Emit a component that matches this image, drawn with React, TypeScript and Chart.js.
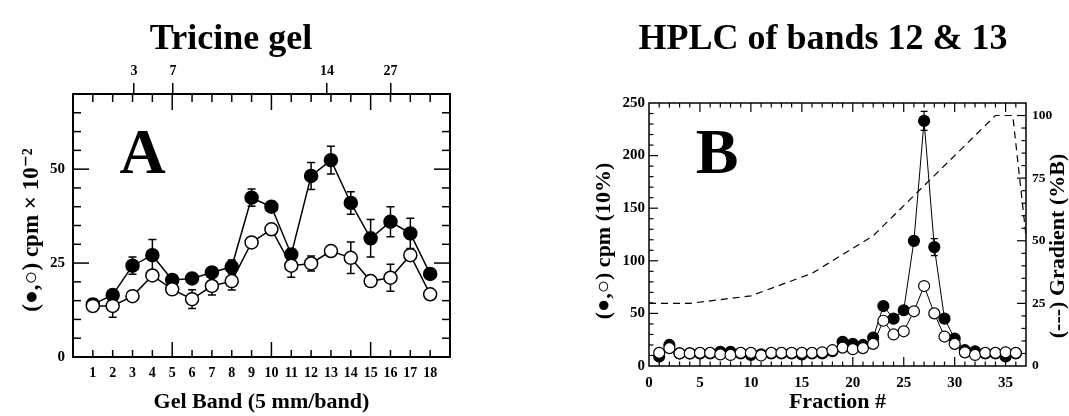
import React, { useEffect, useRef } from "react";
import { Chart, registerables } from "chart.js";

Chart.register(...registerables);

const SERIF = "'Liberation Serif', 'Times New Roman', 'DejaVu Serif', serif";

// ---------- Panel A : Tricine gel ----------
const bandsA = [1, 2, 3, 4, 5, 6, 7, 8, 9, 10, 11, 12, 13, 14, 15, 16, 17, 18];
const filledA = [14, 16.5, 24.3, 27.1, 20.5, 20.9, 22.5, 24.0, 42.4, 40.0, 27.3, 48.2, 52.4, 41.0, 31.6, 36.0, 32.9, 22.1];
const filledErrA = [1.5, 1, 2.3, 4.2, 1, 1, 1, 1.8, 2.3, 1, 1.5, 3.6, 3.7, 3.0, 5.0, 4.0, 4.0, 1];
const openA = [13.6, 13.6, 16.2, 21.7, 18.0, 15.4, 18.9, 20.2, 30.5, 34.0, 24.3, 24.9, 28.2, 26.4, 20.2, 21.1, 27.1, 16.7];
const openErrA = [1.5, 3.0, 1, 1, 1, 2.5, 2.4, 2.4, 1, 1, 3.1, 2.0, 1, 4.2, 1.3, 3.6, 1, 1];
const yTicksA = [0, 25, 50];
const mwLabels = ["3", "7", "14", "27"];
const mwPositions = [3.07, 5.04, 12.8, 16.0];

// ---------- Panel B : HPLC of bands 12 & 13 ----------
const fractionsB = [1, 2, 3, 4, 5, 6, 7, 8, 9, 10, 11, 12, 13, 14, 15, 16, 17, 18, 19, 20, 21, 22, 23, 24, 25, 26, 27, 28, 29, 30, 31, 32, 33, 34, 35, 36];
const filledB = [9, 20, 12, 12, 12, 12, 13.5, 13.5, 12, 10.5, 11, 12, 12, 12, 11, 12, 12, 14, 23, 21, 20, 27, 57, 45, 53, 119, 233, 113, 45, 26, 15, 14, 12, 12, 9, 12];
const filledErrB = [0, 0, 0, 0, 0, 0, 0, 0, 0, 0, 0, 0, 0, 0, 0, 0, 0, 0, 0, 0, 0, 0, 0, 0, 0, 0, 9, 8, 0, 0, 0, 0, 0, 0, 0, 0];
const openB = [12.5, 17, 12, 12, 12.5, 12.5, 11, 10.5, 12.5, 12.5, 10, 12.5, 12.5, 12.5, 12.5, 12.5, 13, 15, 17.5, 16, 17, 21, 43, 30, 33, 52, 76, 50, 28, 21, 13, 10.5, 12.5, 12.5, 13, 12.5];
const gradientX = [0, 4, 10, 16, 22, 34, 35.7, 37];
const gradientY = [25, 25, 28, 37, 52, 100, 100, 52];
const xTicksB = [0, 5, 10, 15, 20, 25, 30, 35];
const yTicksB = [0, 50, 100, 150, 200, 250];
const y2TicksB = [0, 25, 50, 75, 100];

// ---------- helpers ----------
const range = (a: number, b: number, s: number) => {
  const out: number[] = [];
  for (let v = a; v <= b + 1e-9; v += s) out.push(v);
  return out;
};

type TickSpec = { scale: string; side: "bottom" | "top" | "left" | "right"; values: number[]; major: number[]; minorLen: number; majorLen: number };

const framePlugin = (specs: TickSpec[], tickWidth: number, frameWidth: number) => ({
  id: "frameTicks",
  beforeDatasetsDraw(chart: any) {
    const { ctx, chartArea: ca } = chart;
    ctx.save();
    ctx.strokeStyle = "#000";
    ctx.lineWidth = tickWidth;
    for (const s of specs) {
      const scale = chart.scales[s.scale];
      for (const v of s.values) {
        const len = s.major.includes(v) ? s.majorLen : s.minorLen;
        const p = scale.getPixelForValue(v);
        ctx.beginPath();
        if (s.side === "bottom") { ctx.moveTo(p, ca.bottom); ctx.lineTo(p, ca.bottom - len); }
        if (s.side === "top") { ctx.moveTo(p, ca.top); ctx.lineTo(p, ca.top + len); }
        if (s.side === "left") { ctx.moveTo(ca.left, p); ctx.lineTo(ca.left + len, p); }
        if (s.side === "right") { ctx.moveTo(ca.right, p); ctx.lineTo(ca.right - len, p); }
        ctx.stroke();
      }
    }
    ctx.lineWidth = frameWidth;
    ctx.strokeRect(ca.left, ca.top, ca.right - ca.left, ca.bottom - ca.top);
    ctx.restore();
  },
});

const errorBarPlugin = (capHalf: number, lineWidth: number) => ({
  id: "errorBars",
  beforeDatasetsDraw(chart: any) {
    const { ctx } = chart;
    ctx.save();
    ctx.strokeStyle = "#000";
    ctx.lineWidth = lineWidth;
    chart.data.datasets.forEach((ds: any, i: number) => {
      if (!ds.errors) return;
      const meta = chart.getDatasetMeta(i);
      const xs = chart.scales[meta.xAxisID];
      const ys = chart.scales[meta.yAxisID];
      ds.data.forEach((d: any, j: number) => {
        const e = ds.errors[j];
        if (!e) return;
        const px = xs.getPixelForValue(d.x);
        const t = ys.getPixelForValue(d.y + e);
        const b = ys.getPixelForValue(d.y - e);
        ctx.beginPath();
        ctx.moveTo(px, t); ctx.lineTo(px, b);
        ctx.moveTo(px - capHalf, t); ctx.lineTo(px + capHalf, t);
        ctx.moveTo(px - capHalf, b); ctx.lineTo(px + capHalf, b);
        ctx.stroke();
      });
    });
    ctx.restore();
  },
});

type TextItem = { text: string; x: number; y: number; size: number; rotate?: number; align?: CanvasTextAlign; baseline?: CanvasTextBaseline };
const textPlugin = (items: TextItem[]) => ({
  id: "texts",
  afterDraw(chart: any) {
    const { ctx } = chart;
    for (const it of items) {
      ctx.save();
      ctx.fillStyle = "#000";
      ctx.font = `bold ${it.size}px ${SERIF}`;
      ctx.textAlign = it.align || "center";
      ctx.textBaseline = it.baseline || "alphabetic";
      ctx.translate(it.x, it.y);
      if (it.rotate) ctx.rotate(it.rotate);
      ctx.fillText(it.text, 0, 0);
      ctx.restore();
    }
  },
});

const bold = (size: number) => ({ family: SERIF, size, weight: "bold" as const });

function PanelA() {
  const ref = useRef<HTMLCanvasElement>(null);
  useEffect(() => {
    const specs: TickSpec[] = [
      { scale: "x", side: "bottom", values: bandsA, major: [5, 10, 15], minorLen: 7, majorLen: 15 },
      { scale: "x", side: "top", values: bandsA, major: [5, 10, 15], minorLen: 8, majorLen: 16 },
      { scale: "y", side: "left", values: range(5, 65, 5), major: [25, 50], minorLen: 8, majorLen: 16 },
      { scale: "y", side: "right", values: range(5, 65, 5), major: [25, 50], minorLen: 8, majorLen: 16 },
    ];
    const chart = new Chart(ref.current!, {
      type: "line",
      data: {
        datasets: [
          {
            label: "open",
            data: bandsA.map((x, i) => ({ x, y: openA[i] })),
            errors: openErrA,
            borderColor: "#000",
            borderWidth: 1.5,
            pointBackgroundColor: "#fff",
            pointBorderColor: "#000",
            pointBorderWidth: 1.5,
            pointRadius: 6.5,
            order: 0,
          } as any,
          {
            label: "filled",
            data: bandsA.map((x, i) => ({ x, y: filledA[i] })),
            errors: filledErrA,
            borderColor: "#000",
            borderWidth: 1.5,
            pointBackgroundColor: "#000",
            pointBorderColor: "#000",
            pointBorderWidth: 1.5,
            pointRadius: 6.5,
            order: 1,
          } as any,
        ],
      },
      options: {
        animation: false,
        responsive: false,
        events: [],
        layout: { padding: { left: 0, right: 80, top: 0, bottom: 0 } },
        plugins: { legend: { display: false }, tooltip: { enabled: false } },
        scales: {
          x: {
            type: "linear",
            position: "bottom",
            min: 0,
            max: 19,
            afterBuildTicks: (s: any) => { s.ticks = bandsA.map((v) => ({ value: v })); },
            afterFit: (s: any) => { s.height = 59; },
            grid: { display: false, drawTicks: false },
            border: { display: false },
            ticks: { autoSkip: false, maxRotation: 0, padding: 8, color: "#000", font: bold(14) },
            title: { display: true, text: "Gel Band (5 mm/band)", color: "#000", font: bold(22), padding: { top: 0, bottom: 0 } },
          },
          x2: {
            type: "linear",
            position: "top",
            min: 0,
            max: 19,
            afterBuildTicks: (s: any) => { s.ticks = mwPositions.map((v) => ({ value: v })); },
            afterFit: (s: any) => { s.height = 94; },
            grid: { display: true, drawOnChartArea: false, drawTicks: true, tickLength: 11, color: "#000", lineWidth: 1.5 },
            border: { display: false },
            ticks: { autoSkip: false, maxRotation: 0, padding: 3, color: "#000", font: bold(14), callback: (_v: any, i: number) => mwLabels[i] },
          },
          y: {
            type: "linear",
            position: "left",
            min: 0,
            max: 70,
            afterBuildTicks: (s: any) => { s.ticks = yTicksA.map((v) => ({ value: v })); },
            afterFit: (s: any) => { s.width = 73; },
            grid: { display: false, drawTicks: false },
            border: { display: false },
            ticks: { padding: 8, color: "#000", font: bold(15) },
          },
        },
      } as any,
      plugins: [
        framePlugin(specs, 1.5, 2),
        errorBarPlugin(4, 1.5),
        textPlugin([
          { text: "Tricine gel", x: 231, y: 49, size: 36 },
          { text: "A", x: 142.5, y: 173, size: 64 },
          { text: "(●,○) cpm × 10⁻²", x: 32, y: 230, size: 23, rotate: -Math.PI / 2, baseline: "middle" },
        ]),
      ],
    });
    return () => chart.destroy();
  }, []);
  return <canvas ref={ref} width={530} height={416} style={{ position: "absolute", left: 0, top: 0 }} />;
}

function PanelB() {
  const ref = useRef<HTMLCanvasElement>(null);
  useEffect(() => {
    const xVals = range(1, 36, 1);
    const specs: TickSpec[] = [
      { scale: "x", side: "bottom", values: xVals, major: [5, 10, 15, 20, 25, 30, 35], minorLen: 4.5, majorLen: 9 },
      { scale: "x", side: "top", values: xVals, major: [5, 10, 15, 20, 25, 30, 35], minorLen: 4.5, majorLen: 9 },
      { scale: "y", side: "left", values: range(10, 240, 10), major: [50, 100, 150, 200], minorLen: 4.5, majorLen: 9 },
      { scale: "y2", side: "right", values: range(5, 100, 5), major: [25, 50, 75, 100], minorLen: 4.5, majorLen: 9 },
    ];
    const chart = new Chart(ref.current!, {
      type: "line",
      data: {
        datasets: [
          {
            label: "open",
            data: fractionsB.map((x, i) => ({ x, y: openB[i] })),
            borderColor: "#000",
            borderWidth: 1,
            pointBackgroundColor: "#fff",
            pointBorderColor: "#000",
            pointBorderWidth: 1.2,
            pointRadius: 5.5,
            yAxisID: "y",
            order: 0,
          } as any,
          {
            label: "filled",
            data: fractionsB.map((x, i) => ({ x, y: filledB[i] })),
            errors: filledErrB,
            borderColor: "#000",
            borderWidth: 1,
            pointBackgroundColor: "#000",
            pointBorderColor: "#000",
            pointBorderWidth: 1.2,
            pointRadius: 5.5,
            yAxisID: "y",
            order: 1,
          } as any,
          {
            label: "gradient",
            data: gradientX.map((x, i) => ({ x, y: gradientY[i] })),
            borderColor: "#000",
            borderWidth: 1.2,
            borderDash: [7, 5],
            pointRadius: 0,
            yAxisID: "y2",
            order: 2,
          } as any,
        ],
      },
      options: {
        animation: false,
        responsive: false,
        events: [],
        layout: { padding: { left: 0, right: 0, top: 103, bottom: 0 } },
        plugins: { legend: { display: false }, tooltip: { enabled: false } },
        scales: {
          x: {
            type: "linear",
            position: "bottom",
            min: 0,
            max: 37,
            afterBuildTicks: (s: any) => { s.ticks = xTicksB.map((v) => ({ value: v })); },
            afterFit: (s: any) => { s.height = 50; },
            grid: { display: false, drawTicks: false },
            border: { display: false },
            ticks: { autoSkip: false, maxRotation: 0, padding: 8, color: "#000", font: bold(15) },
            title: { display: true, text: "Fraction #", color: "#000", font: bold(22), padding: { top: 0, bottom: 0 } },
          },
          y: {
            type: "linear",
            position: "left",
            min: 0,
            max: 250,
            afterBuildTicks: (s: any) => { s.ticks = yTicksB.map((v) => ({ value: v })); },
            afterFit: (s: any) => { s.width = 119; },
            grid: { display: false, drawTicks: false },
            border: { display: false },
            ticks: { padding: 4, color: "#000", font: bold(15) },
          },
          y2: {
            type: "linear",
            position: "right",
            min: 0,
            max: 105,
            afterBuildTicks: (s: any) => { s.ticks = y2TicksB.map((v) => ({ value: v })); },
            afterFit: (s: any) => { s.width = 43; },
            grid: { display: false, drawTicks: false, drawOnChartArea: false },
            border: { display: false },
            ticks: { padding: 6, color: "#000", font: bold(13.5) },
          },
        },
      } as any,
      plugins: [
        framePlugin(specs, 1.2, 1.5),
        errorBarPlugin(3.5, 1.2),
        textPlugin([
          { text: "HPLC of bands 12 & 13", x: 293, y: 49, size: 36 },
          { text: "B", x: 187, y: 173, size: 64 },
          { text: "(●,○) cpm (10%)", x: 74, y: 241, size: 22, rotate: -Math.PI / 2, baseline: "middle" },
          { text: "(---) Gradient (%B)", x: 528, y: 246, size: 22, rotate: -Math.PI / 2, baseline: "middle" },
        ]),
      ],
    });
    return () => chart.destroy();
  }, []);
  return <canvas ref={ref} width={539} height={416} style={{ position: "absolute", left: 530, top: 0 }} />;
}

export default function App() {
  return (
    <div style={{ position: "absolute", left: 0, top: 0, width: 1069, height: 416, background: "#fff", overflow: "hidden" }}>
      <PanelA />
      <PanelB />
    </div>
  );
}
